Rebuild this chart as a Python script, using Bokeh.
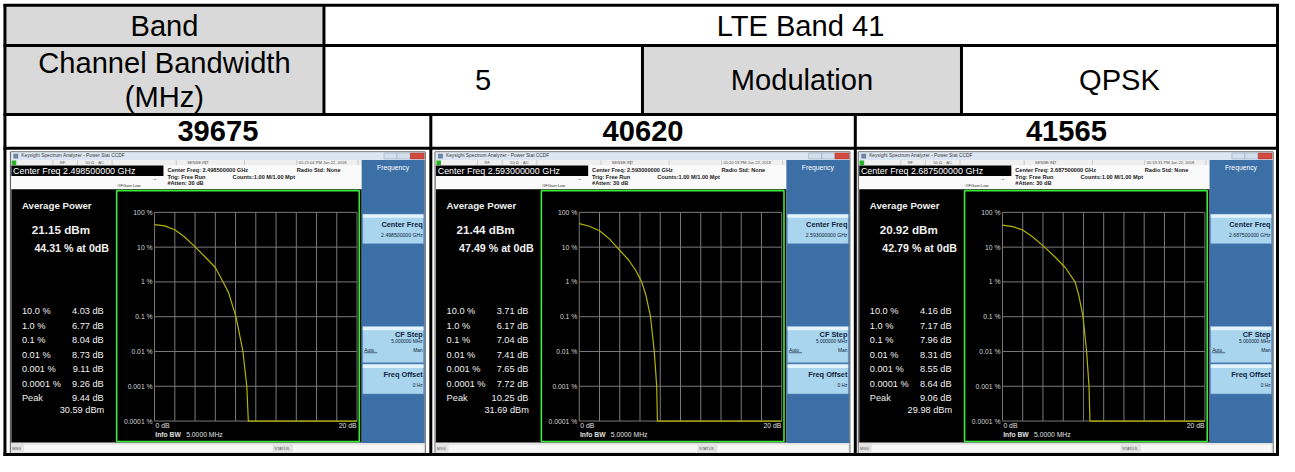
from bokeh.plotting import figure
from bokeh.models import Range1d, LogScale
from bokeh.core.properties import value
from bokeh.embed import file_html
from bokeh.resources import INLINE

# ------------------------------------------------------------------ data
band_label = "Band"
band_value = "LTE Band 41"
bw_label_lines = ["Channel Bandwidth", "(MHz)"]
bw_value = "5"
mod_label = "Modulation"
mod_value = "QPSK"

channels = ["39675", "40620", "41565"]
center_freqs = ["2.498500000 GHz", "2.593000000 GHz", "2.687500000 GHz"]
timestamps = ["05:21:04 PM Jan 22, 2018", "05:20:19 PM Jan 22, 2018", "05:19:31 PM Jan 22, 2018"]
avg_power_dbm = [21.15, 21.44, 20.92]
pct_at_0db = [44.31, 47.49, 42.79]

ccdf_levels_pct = [10.0, 1.0, 0.1, 0.01, 0.001, 0.0001]
ccdf_level_labels = ["10.0 %", "1.0 %", "0.1 %", "0.01 %", "0.001 %", "0.0001 %"]
ccdf_db_39675 = [4.03, 6.77, 8.04, 8.73, 9.11, 9.26]
ccdf_db_40620 = [3.71, 6.17, 7.04, 7.41, 7.65, 7.72]
ccdf_db_41565 = [4.16, 7.17, 7.96, 8.31, 8.55, 8.64]
peak_db = [9.44, 10.25, 9.06]
peak_dbm = [30.59, 31.69, 29.98]

# extra trace points (dB, %)
trace_db_39675 = [1.0, 2.0, 3.0, 5.0, 6.0, 7.3]
trace_pct_39675 = [41.0, 31.5, 19.3, 5.2, 2.6, 0.5]
trace_db_40620 = [1.0, 2.0, 3.0, 4.9, 5.6, 6.6]
trace_pct_40620 = [40.0, 29.5, 17.0, 4.2, 2.1, 0.4]
trace_db_41565 = [1.0, 2.0, 3.0, 5.2, 6.2, 7.55]
trace_pct_41565 = [39.0, 31.0, 19.5, 5.2, 2.6, 0.4]

y_ticks_pct = [100, 10, 1, 0.1, 0.01, 0.001, 0.0001]
y_tick_labels = ["100 %", "10 %", "1 %", "0.1 %", "0.01 %", "0.001 %", "0.0001 %"]
x_ticks_db = [0, 2, 4, 6, 8, 10, 12, 14, 16, 18, 20]
x_label_left = "0 dB"
x_label_right = "20 dB"
info_bw = "5.0000 MHz"
cf_step = "5.000000 MHz"

ccdf_db = [ccdf_db_39675, ccdf_db_40620, ccdf_db_41565]
trace_db = [trace_db_39675, trace_db_40620, trace_db_41565]
trace_pct = [trace_pct_39675, trace_pct_40620, trace_pct_41565]

# ------------------------------------------------------------------ figure
W, H = 1279, 456
RW, RH = 1295, 472
FS = 0.97
FONT = value("Liberation Sans")

p = figure(width=W, height=H, x_range=Range1d(0, RW), y_range=Range1d(RH, 0),
           x_axis_location=None, y_axis_location=None, toolbar_location=None,
           output_backend="svg", min_border=0, outline_line_color=None,
           background_fill_color="white", border_fill_color="white")
p.xgrid.visible = False
p.ygrid.visible = False

# log scale for the CCDF percentage axis, mapped to the screenshot plot area
Y100 = 219.3
PX_DEC = 36.0
lg_bottom = 2 - (RH - Y100) / PX_DEC
lg_top = 2 + Y100 / PX_DEC
p.extra_y_ranges = {"pct": Range1d(10 ** lg_bottom, 10 ** lg_top)}
p.extra_y_scales = {"pct": LogScale()}

X0 = 156.0
PX_DB = 10.25
offsets = [0.0, 430.0, 858.5]
p.extra_x_ranges = {f"db{k}": Range1d(-(X0 + ox) / PX_DB, (RW - X0 - ox) / PX_DB)
                    for k, ox in enumerate(offsets)}


def txt(x, y, s, size, align="left", bold=False, color="black", **kw):
    p.text(x=[x], y=[y], text=[s], text_font=FONT,
           text_font_size=f"{size * FS:.2f}px", text_align=align,
           text_baseline="middle", text_color=color,
           text_font_style="bold" if bold else "normal", **kw)


def box(l, r, t, b, fill, line=None, lw=1.0):
    p.quad(left=[l], right=[r], top=[t], bottom=[b], fill_color=fill,
           line_color=line, line_width=lw)


def seg(x0, y0, x1, y1, color, lw=1.0):
    p.segment(x0=[x0], y0=[y0], x1=[x1], y1=[y1], line_color=color, line_width=lw)


# ------------------------------------------------------------------ header table
GRAY = "#d9d9d9"
HF = 30
box(4.5, 327.5, 5, 46.5, GRAY)
box(4.5, 327.5, 46.5, 118, GRAY)
box(650, 973, 46.5, 118, GRAY)

txt(166, 26.5, band_label, HF, "center")
txt(810, 26.5, band_value, HF, "center")
txt(166, 64.5, bw_label_lines[0], HF, "center")
txt(166, 99.5, bw_label_lines[1], HF, "center")
txt(488.7, 82.5, bw_value, HF, "center")
txt(811.5, 82.5, mod_label, HF, "center")
txt(1133, 82.5, mod_value, HF, "center")
chan_centres = [220.1, 650.6, 1079.2]
for k, ch in enumerate(channels):
    txt(chan_centres[k], 135.5, ch, HF, "center", bold=True)

# ------------------------------------------------------------------ screenshots
DARK = "#10233a"
WHITE = "#f0f0f0"
CURVE = "#b4b400"
GRIDC = "#7a7a7a"

for k, ox in enumerate(offsets):
    def X(v):
        return v + ox
    cf = center_freqs[k]
    # window frame and title bar
    box(X(10), X(430), 156.7, 469, "#ececec", "#4a4a4a", 1)
    box(X(10.5), X(429.5), 157, 165, "#dbe6f2")
    box(X(13), X(18), 158.5, 163.5, "#6f86a3")
    txt(X(21), 160.8, "Keysight Spectrum Analyzer - Power Stat CCDF", 5, color="#3a3a3a")
    box(X(388.3), X(401.5), 157.8, 164, "#d3dfeb", "#8ea2b8", 0.5)
    box(X(401.5), X(415), 157.8, 164, "#d3dfeb", "#8ea2b8", 0.5)
    box(X(415), X(429), 157.8, 164, "#d4493f", "#9b2f27", 0.5)
    # status row
    box(X(10.5), X(365.7), 165, 170.5, "#efefef")
    box(X(11.3), X(16), 165.6, 170.2, "#27b327")
    for sxp in [53, 78, 113, 178, 208, 247, 300, 362]:
        seg(X(sxp), 165.3, X(sxp), 170.3, "#b0b0b0", 0.6)
    txt(X(60), 167.8, "RF", 4.2, color="#555555")
    txt(X(86), 167.8, "50 Ω", 4.2, color="#555555")
    txt(X(99), 167.8, "AC", 4.2, color="#555555")
    txt(X(189), 167.8, "SENSE:INT", 4.2, color="#555555")
    txt(X(302), 167.8, timestamps[k], 4.2, color="#555555")
    # settings area
    box(X(11), X(365.7), 170.5, 195.5, "#fafafa")
    box(X(11), X(165), 170.7, 181.7, "black")
    txt(X(12.7), 176.3, "Center Freq " + cf, 9.2, color="white")
    txt(X(169), 175.5, "Center Freq: " + cf, 5.8, bold=True, color="#1a1a1a")
    txt(X(300), 175.5, "Radio Std: None", 5.8, bold=True, color="#1a1a1a")
    txt(X(169), 182.6, "Trig: Free Run", 5.8, bold=True, color="#1a1a1a")
    txt(X(235), 182.6, "Counts:1.00 M/1.00 Mpt", 5.8, bold=True, color="#1a1a1a")
    txt(X(169), 188.8, "#Atten: 30 dB", 5.8, bold=True, color="#1a1a1a")
    txt(X(118), 191.5, "#IFGain:Low", 4.3, color="#333333")
    txt(X(153), 184.2, "→", 6, color="#333333")
    # measurement area
    box(X(11), X(365.7), 195.5, 457.5, "black")
    box(X(117.6), X(363.3), 196.8, 456.5, None, "#3bea3b", 1.6)
    # right softkey panel
    box(X(365.7), X(429.5), 165, 458, "#3d6fa7")
    txt(X(397.5), 173.3, "Frequency", 7, "center", color="white")
    for (t, b) in [(221, 251.7), (337.3, 375), (376.3, 407.3)]:
        box(X(366.7), X(428.5), t, b, "#a9d5ee", "#5f8fbf", 0.6)
        box(X(366.9), X(428.3), t + 0.4, t + 4, "#e4f4fc")
    txt(X(427.5), 232, "Center Freq", 7.6, "right", bold=True, color=DARK)
    txt(X(427.5), 242.7, cf, 5.3, "right", color=DARK)
    txt(X(427.5), 346, "CF Step", 7.6, "right", bold=True, color=DARK)
    txt(X(427.5), 353.4, cf_step, 5.0, "right", color=DARK)
    txt(X(368.3), 362, "Auto", 5.0, color=DARK)
    seg(X(368.3), 364.6, X(381.5), 364.6, DARK, 0.6)
    txt(X(427.5), 362, "Man", 5.0, "right", color=DARK)
    txt(X(427.5), 387.3, "Freq Offset", 7.6, "right", bold=True, color=DARK)
    txt(X(427.5), 398, "0 Hz", 5.0, "right", color=DARK)
    # bottom status bar
    box(X(10.5), X(429.5), 458, 468.5, "#e2e2e2")
    box(X(23.5), X(275.5), 459.8, 467.6, "#f7f7f7")
    box(X(296), X(428.5), 459.8, 467.6, "#f7f7f7")
    txt(X(11.8), 463.7, "MSG", 4, color="#555555")
    txt(X(277.3), 463.7, "STATUS", 4, color="#555555")
    # left result panel
    txt(X(21.7), 212.7, "Average Power", 10, bold=True, color=WHITE)
    txt(X(31.7), 237.3, f"{avg_power_dbm[k]:.2f} dBm", 12, bold=True, color=WHITE)
    txt(X(34.3), 256.7, f"{pct_at_0db[k]:.2f} % at 0dB", 11, bold=True, color=WHITE)
    for i, lab in enumerate(ccdf_level_labels):
        yy = 321.7 + 15 * i
        txt(X(21.7), yy, lab, 9.5, color=WHITE)
        txt(X(104.5), yy, f"{ccdf_db[k][i]:.2f} dB", 9.5, "right", color=WHITE)
    txt(X(21.7), 411.7, "Peak", 9.5, color=WHITE)
    txt(X(104.5), 411.7, f"{peak_db[k]:.2f} dB", 9.5, "right", color=WHITE)
    txt(X(105), 423.7, f"{peak_dbm[k]:.2f} dBm", 9.5, "right", color=WHITE)

    # CCDF plot (data space: dB vs log %)
    xr = f"db{k}"
    lo, hi = x_ticks_db[0], x_ticks_db[-1]
    p.segment(x0=[lo] * len(y_ticks_pct), x1=[hi] * len(y_ticks_pct),
              y0=y_ticks_pct, y1=y_ticks_pct, line_color=GRIDC, line_width=1,
              x_range_name=xr, y_range_name="pct")
    p.segment(x0=x_ticks_db, x1=x_ticks_db, y0=[y_ticks_pct[-1]] * len(x_ticks_db),
              y1=[y_ticks_pct[0]] * len(x_ticks_db), line_color=GRIDC, line_width=1,
              x_range_name=xr, y_range_name="pct")
    p.text(x=[lo] * len(y_ticks_pct), y=y_ticks_pct, text=y_tick_labels,
           x_offset=-2, text_align="right", text_baseline="middle",
           text_font=FONT, text_font_size=f"{7 * FS:.2f}px", text_color="#d4d4d4",
           x_range_name=xr, y_range_name="pct")
    pts = sorted(zip([0.0] + trace_db[k] + ccdf_db[k],
                     [pct_at_0db[k]] + trace_pct[k] + ccdf_levels_pct))
    curve_x = [a for a, _ in pts] + [hi]
    curve_y = [b for _, b in pts] + [ccdf_levels_pct[-1]]
    p.line(x=curve_x, y=curve_y, line_color=CURVE, line_width=1.2,
           x_range_name=xr, y_range_name="pct")
    txt(X(157), 440, x_label_left, 7, color="#e0e0e0")
    txt(X(360.5), 440, x_label_right, 7, "right", color="#e0e0e0")
    txt(X(156.7), 449, "Info BW", 7, bold=True, color="#e0e0e0")
    txt(X(188), 449, info_bw, 7, color="#e0e0e0")

# ------------------------------------------------------------------ table rules
LW = 3
BK = "black"
for yy in [5, 46.5, 118, 153, 470]:
    seg(3, yy, 1294.5, yy, BK, LW)
seg(4.5, 3.5, 4.5, 471.5, BK, LW)
seg(1293, 3.5, 1293, 471.5, BK, LW)
seg(327.5, 5, 327.5, 118, BK, LW)
seg(650, 46.5, 650, 118, BK, LW)
seg(973, 46.5, 973, 118, BK, LW)
seg(435.7, 118, 435.7, 470, BK, LW)
seg(865.5, 118, 865.5, 470, BK, LW)

open("out.html", "w").write(file_html(p, INLINE))
